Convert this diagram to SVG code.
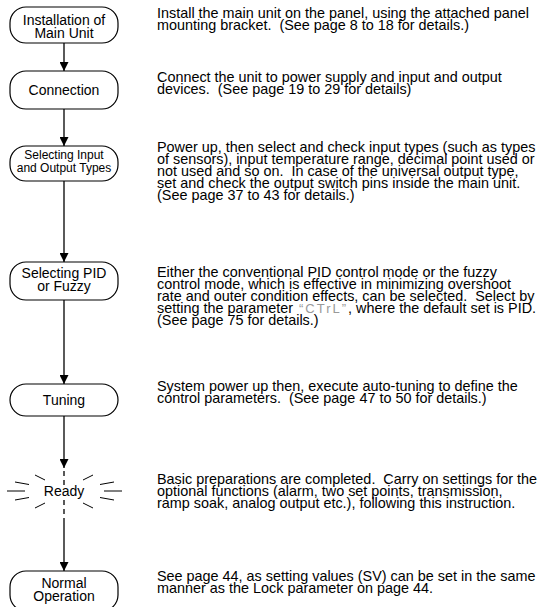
<svg xmlns="http://www.w3.org/2000/svg" width="538" height="607" viewBox="0 0 538 607">
<style>
  .box { fill: #fff; stroke: #000; stroke-width: 1.2; }
  .lbl { font-family: "Liberation Sans", Arial, sans-serif; font-size: 14px; fill: #000; text-anchor: middle; }
  .lbls { font-family: "Liberation Sans", Arial, sans-serif; font-size: 12px; fill: #000; text-anchor: middle; }
  .desc { font-family: "Liberation Sans", Arial, sans-serif; font-size: 14.4px; fill: #000; white-space: pre; }
  .conn { stroke: #000; stroke-width: 1.3; fill: none; }
  .ray { stroke: #000; stroke-width: 1; fill: none; }
  .dash { stroke: #000; stroke-width: 1.3; fill: none; stroke-dasharray: 5 4; }
  .seg { font-family: "Liberation Sans", Arial, sans-serif; font-size: 13px; fill: #999; letter-spacing: 2px; }
</style>
<defs>
  <marker id="arr" viewBox="0 0 10 10" refX="10" refY="5" markerWidth="12" markerHeight="9" markerUnits="userSpaceOnUse" orient="auto">
    <path d="M0,0 L10,5 L0,10 z" fill="#000"/>
  </marker>
</defs>
<rect width="538" height="607" fill="#fff"/>

<g id="connectors">
  <line class="conn" x1="64" y1="43" x2="64" y2="71" marker-end="url(#arr)"/>
  <line class="conn" x1="64" y1="109" x2="64" y2="146" marker-end="url(#arr)"/>
  <line class="conn" x1="64" y1="181" x2="64" y2="262" marker-end="url(#arr)"/>
  <line class="conn" x1="64" y1="300" x2="64" y2="384" marker-end="url(#arr)"/>
  <line class="conn" x1="64" y1="416" x2="64" y2="468" marker-end="url(#arr)"/>
  <line class="conn" x1="64" y1="518" x2="64" y2="571" marker-end="url(#arr)"/>
</g>

<g id="node-installation">
  <rect class="box" x="10" y="7" width="108" height="36" rx="16" ry="16"/>
  <text class="lbl" x="64" y="25">Installation of</text>
  <text class="lbl" x="64" y="38">Main Unit</text>
</g>
<g id="node-connection">
  <rect class="box" x="10" y="71" width="108" height="38" rx="16" ry="16"/>
  <text class="lbl" x="64" y="95">Connection</text>
</g>
<g id="node-selecting-io">
  <rect class="box" x="10" y="146" width="108" height="35" rx="16" ry="16"/>
  <text class="lbls" x="64" y="159">Selecting Input</text>
  <text class="lbls" x="64" y="172">and Output Types</text>
</g>
<g id="node-selecting-pid">
  <rect class="box" x="10" y="262" width="108" height="38" rx="16" ry="16"/>
  <text class="lbl" x="64" y="278">Selecting PID</text>
  <text class="lbl" x="64" y="291">or Fuzzy</text>
</g>
<g id="node-tuning">
  <rect class="box" x="10" y="384" width="108" height="32" rx="16" ry="16"/>
  <text class="lbl" x="64" y="405">Tuning</text>
</g>
<g id="node-ready">
  <line class="dash" x1="64" y1="471" x2="64" y2="487"/>
  <line class="dash" x1="64" y1="500" x2="64" y2="518"/>
  <line class="ray" x1="35" y1="475" x2="45" y2="480"/>
  <line class="ray" x1="93" y1="475" x2="83" y2="480"/>
  <line class="ray" x1="35" y1="508" x2="45" y2="503"/>
  <line class="ray" x1="93" y1="508" x2="83" y2="503"/>
  <line class="ray" x1="15" y1="482" x2="29" y2="484.5"/>
  <line class="ray" x1="7" y1="491" x2="25" y2="491"/>
  <line class="ray" x1="15" y1="500" x2="29" y2="497.5"/>
  <line class="ray" x1="114" y1="482" x2="100" y2="484.5"/>
  <line class="ray" x1="122" y1="491" x2="104" y2="491"/>
  <line class="ray" x1="114" y1="500" x2="100" y2="497.5"/>
  <text class="lbl" x="64" y="496">Ready</text>
</g>
<g id="node-normal">
  <rect class="box" x="10" y="571" width="108" height="40" rx="16" ry="16"/>
  <text class="lbl" x="64" y="588">Normal</text>
  <text class="lbl" x="64" y="601">Operation</text>
</g>

<g id="descriptions">
  <text class="desc" x="157" y="17.5">Install the main unit on the panel, using the attached panel</text>
  <text class="desc" x="157" y="29.5">mounting bracket.  (See page 8 to 18 for details.)</text>

  <text class="desc" x="157" y="82">Connect the unit to power supply and input and output</text>
  <text class="desc" x="157" y="94">devices.  (See page 19 to 29 for details)</text>

  <text class="desc" x="157" y="152">Power up, then select and check input types (such as types</text>
  <text class="desc" x="157" y="164">of sensors), input temperature range, decimal point used or</text>
  <text class="desc" x="157" y="176">not used and so on.  In case of the universal output type,</text>
  <text class="desc" x="157" y="188">set and check the output switch pins inside the main unit.</text>
  <text class="desc" x="157" y="200">(See page 37 to 43 for details.)</text>

  <text class="desc" x="157" y="277">Either the conventional PID control mode or the fuzzy</text>
  <text class="desc" x="157" y="289">control mode, which is effective in minimizing overshoot</text>
  <text class="desc" x="157" y="301">rate and outer condition effects, can be selected.  Select by</text>
  <text class="desc" x="157" y="313">setting the parameter <tspan class="seg" dx="2">“CTrL”</tspan><tspan dx="0">, where the default set is PID.</tspan></text>
  <text class="desc" x="157" y="325">(See page 75 for details.)</text>

  <text class="desc" x="157" y="390.5">System power up then, execute auto-tuning to define the</text>
  <text class="desc" x="157" y="402.5">control parameters.  (See page 47 to 50 for details.)</text>

  <text class="desc" x="157" y="483.5">Basic preparations are completed.  Carry on settings for the</text>
  <text class="desc" x="157" y="495.5">optional functions (alarm, two set points, transmission,</text>
  <text class="desc" x="157" y="507.5">ramp soak, analog output etc.), following this instruction.</text>

  <text class="desc" x="157" y="581">See page 44, as setting values (SV) can be set in the same</text>
  <text class="desc" x="157" y="593">manner as the Lock parameter on page 44.</text>
</g>
</svg>
